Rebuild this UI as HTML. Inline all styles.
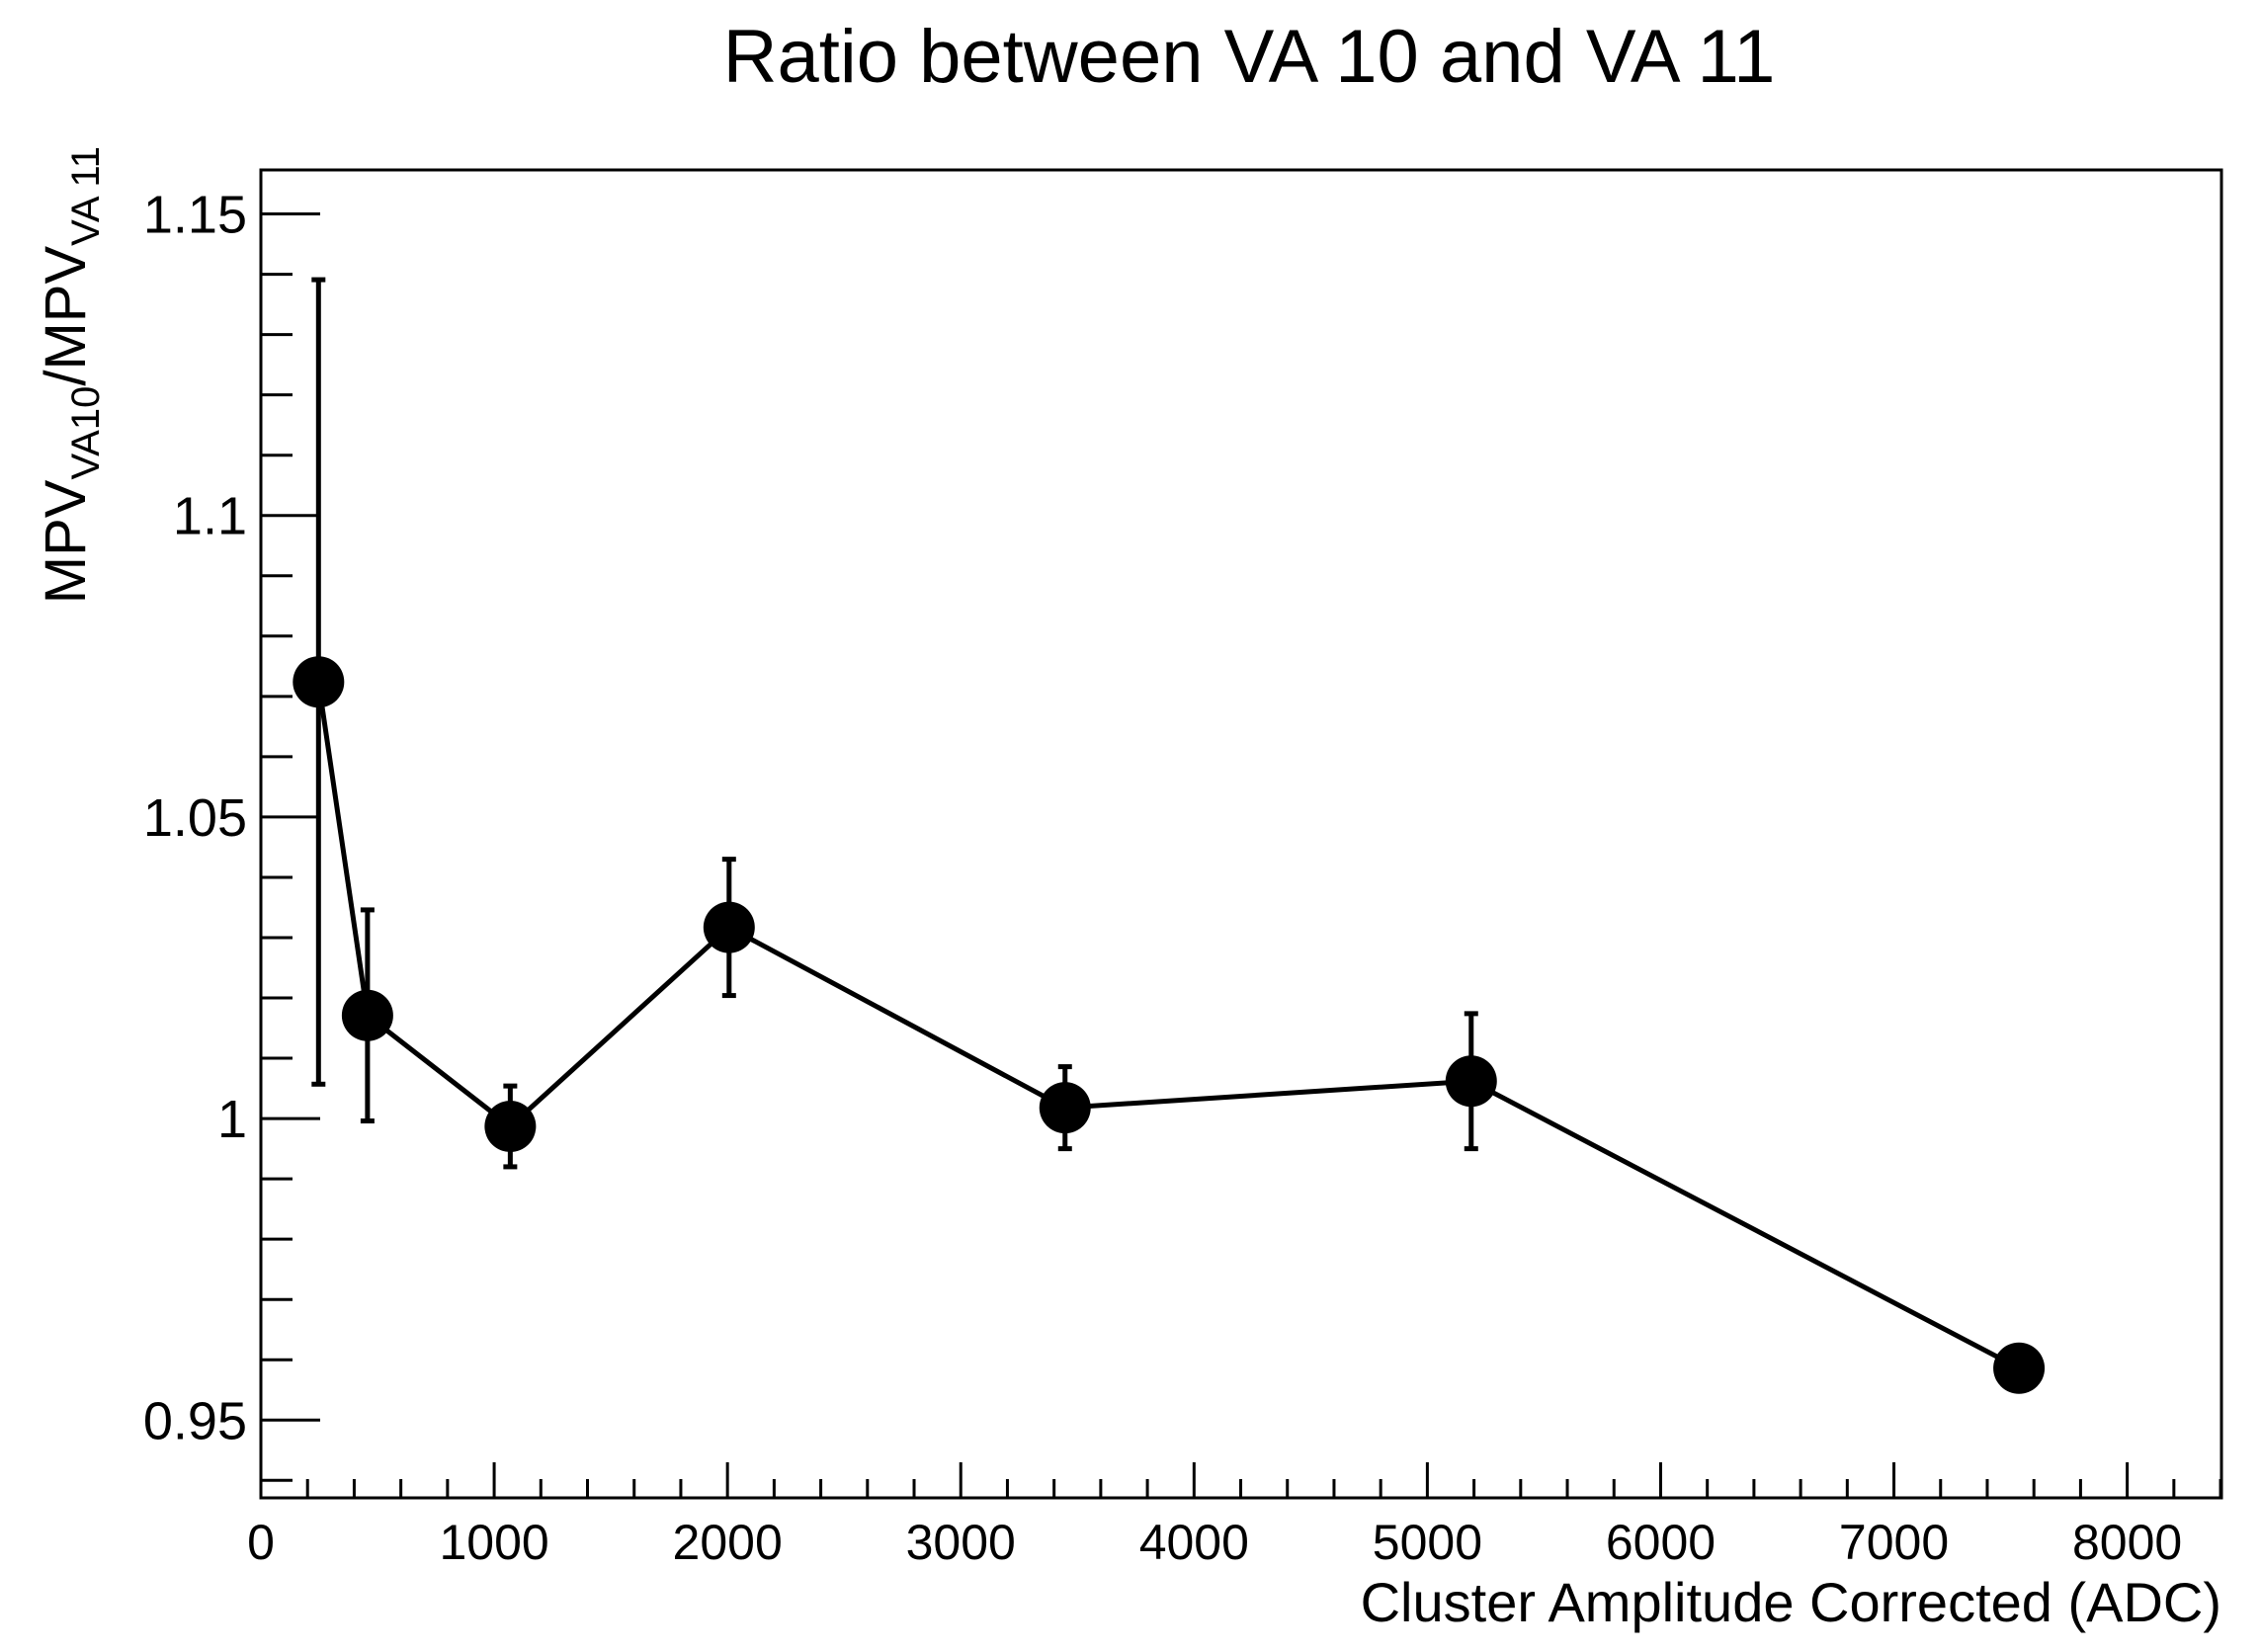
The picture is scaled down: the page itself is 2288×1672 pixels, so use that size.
<!DOCTYPE html>
<html><head><meta charset="utf-8">
<style>
html,body{margin:0;padding:0;background:#fff;}
svg{display:block;font-family:"Liberation Sans",sans-serif;}
</style></head>
<body>
<svg id="chart" width="2288" height="1672" viewBox="0 0 2288 1672" xmlns="http://www.w3.org/2000/svg">
<rect width="2288" height="1672" fill="#fff"/>
<text x="1264" y="83" font-size="76" text-anchor="middle" fill="#000">Ratio between VA 10 and VA 11</text>
<g id="axes"></g>
<g id="marks"></g>
<text x="2248" y="1641" font-size="56" text-anchor="end" fill="#000">Cluster Amplitude Corrected (ADC)</text>
<text transform="translate(86,148) rotate(-90)" font-size="58" text-anchor="end" fill="#000">MPV<tspan font-size="40" dy="14">VA10</tspan><tspan dy="-14">/MPV</tspan><tspan font-size="40" dy="14">VA 11</tspan></text>
</svg>
<script>
const xValues=[247,457,1069,2007,3447,5188,7536];
const yValues=[1.0724,1.0171,0.9987,1.0317,1.0018,1.0062,0.9586];
const yErrors=[0.0667,0.0175,0.0067,0.0113,0.0068,0.0112,0.0015];
const xErrors=[0,0,0,0,0,0,80];
const xTickLabels=["0","1000","2000","3000","4000","5000","6000","7000","8000"];
const yTickLabels=["0.95","1","1.05","1.1","1.15"];

const L=264,R=2248,T=172,B=1516;
const XMIN=0,XMAX=8404,YMIN=0.9371,YMAX=1.1573;
const sx=v=>L+(v-XMIN)/(XMAX-XMIN)*(R-L);
const sy=v=>B-(v-YMIN)/(YMAX-YMIN)*(B-T);
const NS="http://www.w3.org/2000/svg";
function mk(tag,attrs,parent){const e=document.createElementNS(NS,tag);for(const k in attrs)e.setAttribute(k,attrs[k]);parent.appendChild(e);return e;}
const axes=document.getElementById('axes'),marks=document.getElementById('marks');

const frame=mk('rect',{x:L,y:T,width:R-L,height:B-T,fill:'none',stroke:'#000','stroke-width':3},axes);



for(let v=0;v<=XMAX;v+=200){
  const major=v%1000===0;const x=sx(v);
  const t=mk('line',{x1:x,x2:x,y1:B,y2:B-(major?36:19),stroke:'#000','stroke-width':3},axes);
  
  
}
xTickLabels.forEach(s=>{
  const v=parseFloat(s);
  const t=mk('text',{x:sx(v),y:B+62,'font-size':50,'text-anchor':'middle',fill:'#000'},axes);
  t.textContent=s;
  
  
});
for(let i=94;i<=115;i++){
  const v=i/100;if(v<YMIN||v>YMAX)continue;
  const major=i%5===0;const y=sy(v);
  const t=mk('line',{x1:L,x2:L+(major?60:32),y1:y,y2:y,stroke:'#000','stroke-width':3},axes);
  
  
}
yTickLabels.forEach(s=>{
  const v=parseFloat(s);
  const t=mk('text',{x:L-14,y:sy(v)+19,'font-size':54,'text-anchor':'end',fill:'#000'},axes);
  t.textContent=s;
  
  
});

const pts=xValues.map((x,i)=>sx(x)+','+sy(yValues[i])).join(' ');
const pl=mk('polyline',{points:pts,fill:'none',stroke:'#000','stroke-width':5},marks);



xValues.forEach((xv,i)=>{
  const x=sx(xv),y=sy(yValues[i]);
  const y1=sy(yValues[i]+yErrors[i]),y2=sy(yValues[i]-yErrors[i]);
  const g=mk('g',{},marks);
  
  
  mk('line',{x1:x,x2:x,y1:y1,y2:y2,stroke:'#000','stroke-width':5},g);
  mk('line',{x1:x-7,x2:x+7,y1:y1,y2:y1,stroke:'#000','stroke-width':5},g);
  mk('line',{x1:x-7,x2:x+7,y1:y2,y2:y2,stroke:'#000','stroke-width':5},g);
  if(xErrors[i]>0){
    const xa=sx(xv-xErrors[i]),xb=sx(xv+xErrors[i]);
    mk('line',{x1:xa,x2:xb,y1:y,y2:y,stroke:'#000','stroke-width':5},g);
    mk('line',{x1:xa,x2:xa,y1:y-7,y2:y+7,stroke:'#000','stroke-width':5},g);
    mk('line',{x1:xb,x2:xb,y1:y-7,y2:y+7,stroke:'#000','stroke-width':5},g);
  }
  mk('circle',{cx:x,cy:y,r:26,fill:'#000'},g);
});
</script>
</body></html>
